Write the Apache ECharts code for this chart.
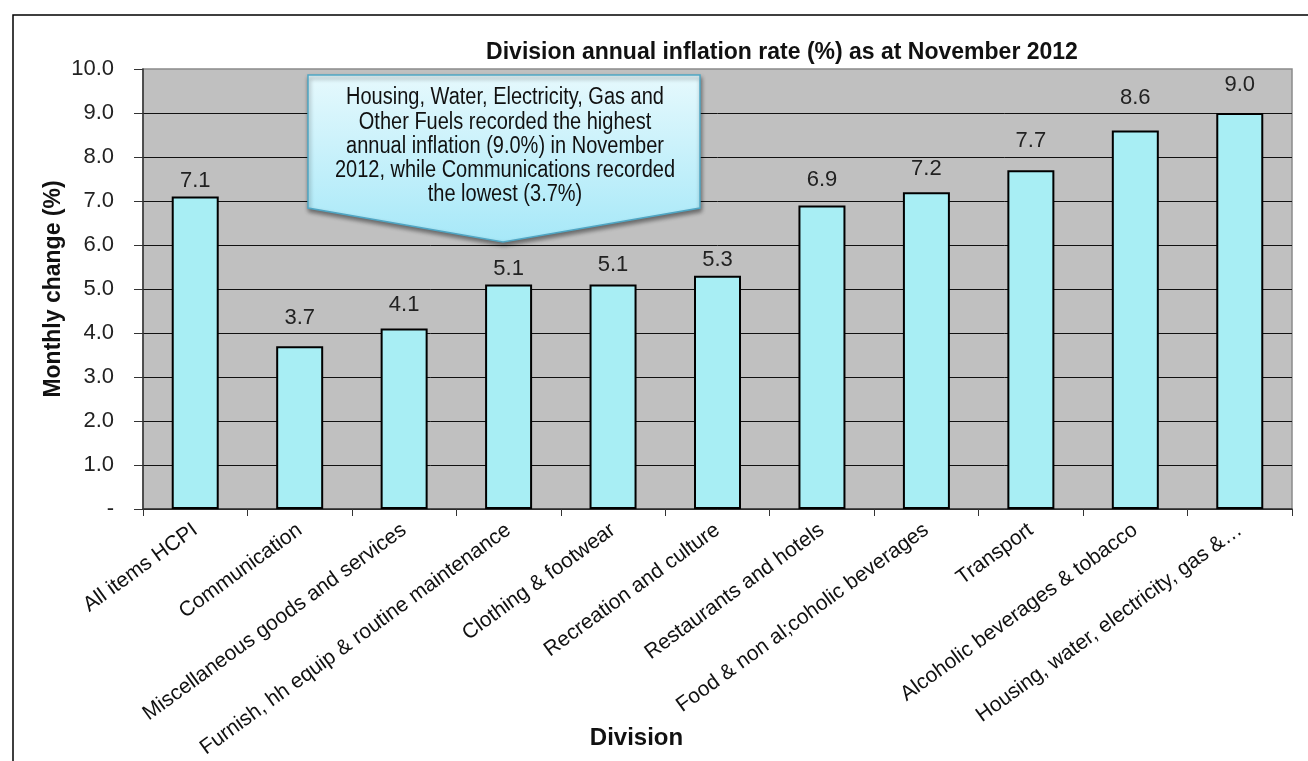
<!DOCTYPE html>
<html><head><meta charset="utf-8">
<script src="https://cdn.jsdelivr.net/npm/echarts@6/dist/echarts.min.js"></script>
<style>html,body{margin:0;padding:0;background:#fff}#c{width:1308px;height:761px}</style>
</head><body><div id="c"></div>
<script>
const categories = ["All items HCPI","Communication","Miscellaneous goods and services","Furnish, hh equip & routine maintenance","Clothing & footwear","Recreation and culture","Restaurants and hotels","Food & non al;coholic beverages","Transport","Alcoholic beverages & tobacco","Housing, water, electricity, gas &\u2026"];
const values = [7.1, 3.7, 4.1, 5.1, 5.1, 5.3, 6.9, 7.2, 7.7, 8.6, 9.0];
const yTickLabels = ["-","1.0","2.0","3.0","4.0","5.0","6.0","7.0","8.0","9.0","10.0"];
const titleText = "Division annual inflation rate (%) as at November 2012";
const calloutLines = ["Housing, Water, Electricity, Gas and","Other Fuels recorded the highest","annual inflation (9.0%) in November","2012, while Communications recorded","the lowest (3.7%)"];

// style: individual data-label distances above bars (manually placed labels in the original)
const labelDistance = [5,17,13,5,9,5,14,12,18,22,17];

const FONT = "'Liberation Sans',Arial,sans-serif";
const chart = echarts.init(document.getElementById('c'), null, {renderer:'canvas'});
chart.setOption({
  animation:false,
  backgroundColor:'#fff',
  title:{text:titleText,left:777,top:36,textAlign:'center',
    textStyle:{fontFamily:FONT,fontWeight:'bold',fontSize:23,color:'#111'}},
  grid:{left:143,right:16,top:69,bottom:252,outerBoundsMode:'none',containLabel:false,
    show:true,backgroundColor:'#c0c0c0',borderColor:'#8a8a8a',borderWidth:1.5},
  xAxis:{type:'category',data:categories,
    name:'Division',nameLocation:'middle',nameGap:217,nameMoveOverlap:false,
    nameTextStyle:{fontFamily:FONT,fontWeight:'bold',fontSize:24,color:'#111',padding:[0,162,0,0]},
    axisLine:{lineStyle:{color:'#333',width:1.5}},
    axisTick:{show:true,length:7,alignWithLabel:false,lineStyle:{color:'#333'}},
    axisLabel:{rotate:36,margin:19,interval:0,fontFamily:FONT,fontSize:21,color:'#111',hideOverlap:false}},
  yAxis:{type:'value',min:0,max:10,interval:1,
    name:'Monthly change (%)',nameLocation:'middle',nameGap:78,nameMoveOverlap:false,
    nameTextStyle:{fontFamily:FONT,fontWeight:'bold',fontSize:23,color:'#111'},
    axisLine:{show:true,lineStyle:{color:'#333',width:1.5}},
    axisTick:{show:true,length:9,lineStyle:{color:'#333'}},
    splitLine:{showMaxLine:false,lineStyle:{color:'#111',width:1}},
    axisLabel:{margin:29,fontFamily:FONT,fontSize:22,color:'#222',
      formatter:(v)=>yTickLabels[Math.round(v)]}},
  series:[{type:'bar',barWidth:47,
    data:values.map((v,i)=>({value:v,label:{distance:labelDistance[i]}})),
    itemStyle:{color:'#a8eef4',borderColor:'#000',borderWidth:2},
    label:{show:true,position:'top',fontFamily:FONT,fontSize:22,color:'#222',
      formatter:(p)=>p.value.toFixed(1)}}],
  graphic:[
    {type:'rect',shape:{x:13,y:15,width:1400,height:1000},style:{fill:'none',stroke:'#000',lineWidth:1.5},z:-1},
    {type:'polygon',shape:{points:[[308,75],[700,75],[700,208],[503,242],[308,208]]},
      style:{fill:new echarts.graphic.LinearGradient(0,0,0,1,[{offset:0,color:'#e6f9fd'},{offset:1,color:'#a6e8f8'}]),
        stroke:'#4fa6c4',lineWidth:1.5,shadowBlur:4,shadowOffsetX:1,shadowOffsetY:3,shadowColor:'rgba(0,0,0,0.45)'},z:100},
    {type:'text',x:505,y:86,scaleY:1.15,z:101,
      style:{text:calloutLines.join('\n'),textAlign:'center',fontFamily:FONT,fontSize:20,lineHeight:21,fill:'#111'}}
  ]
});
</script></body></html>
